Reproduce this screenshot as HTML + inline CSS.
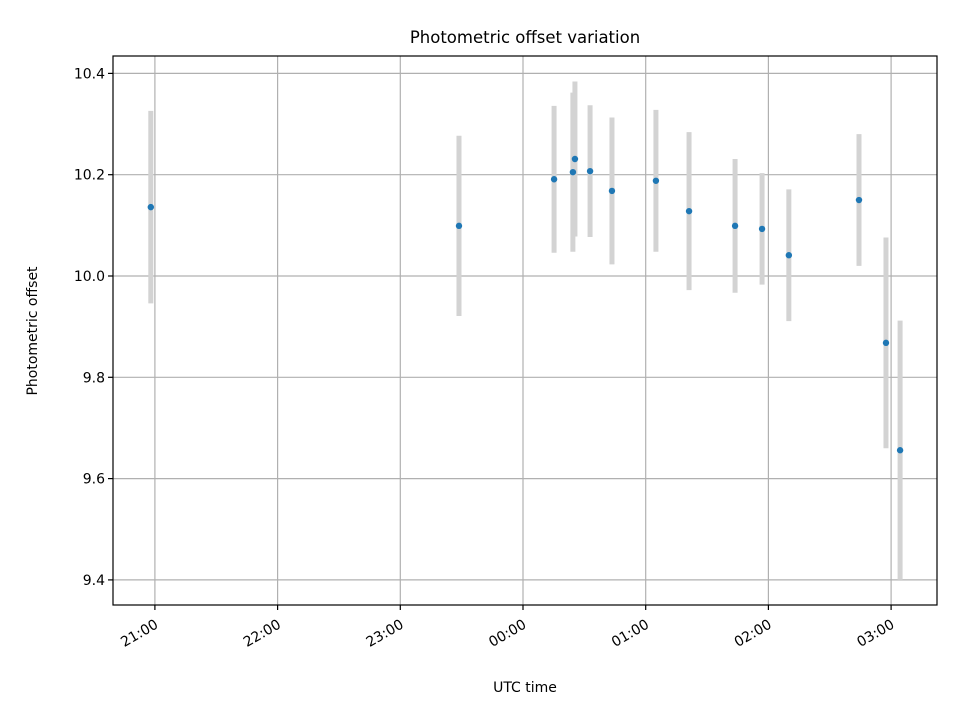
<!DOCTYPE html>
<html><head><meta charset="utf-8"><style>body{margin:0;background:#fff}svg{display:block;font-family:"DejaVu Sans","Liberation Sans",sans-serif}</style></head>
<body>
<svg id="chart" width="960" height="720" viewBox="0 0 960 720" xmlns="http://www.w3.org/2000/svg">
<rect width="960" height="720" fill="#fff"/>
<text x="525" y="43" font-size="16.5" text-anchor="middle">Photometric offset variation</text>
<text x="525" y="692" font-size="14" text-anchor="middle">UTC time</text>
<text transform="translate(37,331) rotate(-90)" font-size="14" text-anchor="middle">Photometric offset</text>
<g id="grid"></g><g id="marks"></g><g id="axes"></g>
</svg>
<script>
// minutes relative to 00:00 UTC
const times = [-182, -31.3, 15.2, 24.4, 25.4, 32.8, 43.5, 65, 81.2, 103.7, 116.9, 130, 164.3, 177.5, 184.4];
const values = [10.136, 10.099, 10.191, 10.205, 10.231, 10.207, 10.168, 10.188, 10.128, 10.099, 10.093, 10.041, 10.150, 9.868, 9.656];
const errors = [0.19, 0.178, 0.145, 0.157, 0.153, 0.13, 0.145, 0.14, 0.156, 0.132, 0.11, 0.13, 0.13, 0.208, 0.256];
const yTicks = [9.4, 9.6, 9.8, 10.0, 10.2, 10.4];
const xTickMinutes = [-180, -120, -60, 0, 60, 120, 180];
const xTickLabels = ["21:00", "22:00", "23:00", "00:00", "01:00", "02:00", "03:00"];

const L=113,R=937,T=56,B=605;
const x = m => 523 + m*122.7/60;
const y = v => 276 - (v-10.0)*506.5;
const NS="http://www.w3.org/2000/svg";
function mk(tag,attrs,parent){const e=document.createElementNS(NS,tag);for(const k in attrs)e.setAttribute(k,attrs[k]);parent.appendChild(e);return e;}
const grid=document.getElementById('grid'),marks=document.getElementById('marks'),axes=document.getElementById('axes');

yTicks.forEach(v=>{
  const g=mk('line',{x1:L,x2:R,y1:y(v),y2:y(v),stroke:'#b0b0b0','stroke-width':1.2},grid);
  
  mk('line',{x1:L-5,x2:L,y1:y(v),y2:y(v),stroke:'#000','stroke-width':1.2},axes);
  const t=mk('text',{x:L-8,y:y(v)+5,'font-size':14,'text-anchor':'end'},axes);
  t.textContent=v.toFixed(1);
  
});
xTickMinutes.forEach((m,i)=>{
  const g=mk('line',{x1:x(m),x2:x(m),y1:T,y2:B,stroke:'#b0b0b0','stroke-width':1.2},grid);
  
  mk('line',{x1:x(m),x2:x(m),y1:B,y2:B+5,stroke:'#000','stroke-width':1.2},axes);
  const t=mk('text',{transform:`translate(${x(m)-1},${B+13}) rotate(-30)`,'font-size':14,'text-anchor':'end',dy:'0.75em'},axes);
  t.textContent=xTickLabels[i];
  
});
times.forEach((m,i)=>{
  const e=mk('line',{x1:x(m),x2:x(m),y1:y(values[i]+errors[i]),y2:y(values[i]-errors[i]),stroke:'#d3d3d3','stroke-width':5},marks);
  
});
times.forEach((m,i)=>{
  const p=mk('circle',{cx:x(m),cy:y(values[i]),r:3.2,fill:'#1f77b4'},marks);
  
});
const f=mk('rect',{x:L,y:T,width:R-L,height:B-T,fill:'none',stroke:'#000','stroke-width':1.2},axes);

</script>
</body></html>
